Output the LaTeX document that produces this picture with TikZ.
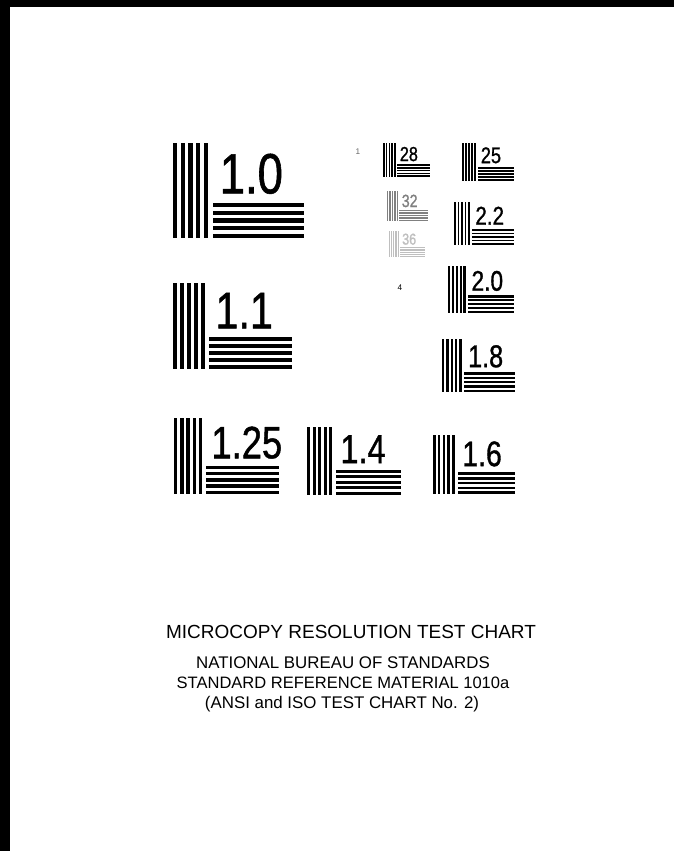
\documentclass[tikz,border=0pt]{standalone}
\usepackage{fontspec}
\setmainfont{Liberation Sans}
\newfontfamily\chartfont[FakeStretch=0.8, FakeBold=1]{Liberation Sans}
\usepackage{tikz}
\tikzset{
	barlabel/.style={inner sep=0pt, anchor=base west},
	caption/.style={inner sep=0pt, anchor=base},
	tinymark/.style={inner sep=0pt, font=\fontsize{7}{7}\selectfont}
}
% one bar pattern: x, bottom y, size, label, name, colour
\newcommand{\testel}[6]{%
	\pgfmathsetmacro{\elL}{95/#3}%
	\pgfmathsetmacro{\elp}{0.37*\elL/4.55}%
	\pgfmathsetmacro{\elw}{0.55*\elp}%
	\pgfmathsetmacro{\elhx}{#1+0.42*\elL}%
	\pgfmathsetmacro{\elfs}{0.51*\elL}%
	\foreach \k in {0,...,4}{%
		\fill[#6] ({#1+\k*\elp},#2) rectangle ++(\elw,-\elL);
		\fill[#6] (\elhx,{#2-\k*\elp}) rectangle ++({0.96*\elL},-\elw);
	}
	\node[barlabel, text=#6, font=\chartfont\fontsize{\elfs}{\elfs}\selectfont] (#5) at ({\elhx+0.07*\elL},{#2-0.47*\elL}) {#4};
}

\begin{document}
\begin{tikzpicture}[x=0.3mm, y=-0.3mm]
	\useasboundingbox (0,0) rectangle (674,851);
	\fill[white] (0,0) rectangle (674,851);

	% Film edges
	\fill (0,0) rectangle (10,851);
	\fill (0,0) rectangle (674,7);

	% Left column
	\testel{173}{238}{1.0}{1.0}{t10}{black}
	\testel{173}{369}{1.1}{1.1}{t11}{black}

	% Bottom row
	\testel{174}{494}{1.25}{1.25}{t125}{black}
	\testel{307}{495}{1.4}{1.4}{t14}{black}
	\testel{433}{494}{1.6}{1.6}{t16}{black}

	% Right column
	\testel{442}{392}{1.8}{1.8}{t18}{black}
	\testel{448}{313}{2.0}{2.0}{t20}{black}
	\testel{454}{245}{2.2}{2.2}{t22}{black}
	\testel{462}{181}{2.5}{25}{t25}{black}

	% Small patterns
	\testel{383}{177}{2.8}{28}{t28}{black}
	\testel{387}{221}{3.2}{32}{t32}{black!50}
	\testel{389}{257}{3.6}{36}{t36}{black!25}
	\node[tinymark, text=black!60] (m1) at (358,152) {1};
	\node[tinymark] (m4) at (400,288) {4};

	% Captions
	\node[caption, font=\fontsize{16.2}{16.2}\selectfont] (title) at (351,638) {MICROCOPY RESOLUTION TEST CHART};
	\node[caption, font=\fontsize{14.4}{14.4}\selectfont] (nbs) at (343,668) {NATIONAL BUREAU OF STANDARDS};
	\node[caption, font=\fontsize{14.1}{14.1}\selectfont] (srm) at (343,688) {STANDARD REFERENCE MATERIAL 1010a};
	\node[caption, font=\fontsize{14.4}{14.4}\selectfont] (ansi) at (342,708) {(ANSI and ISO TEST CHART No. 2)};
\end{tikzpicture}
\end{document}
